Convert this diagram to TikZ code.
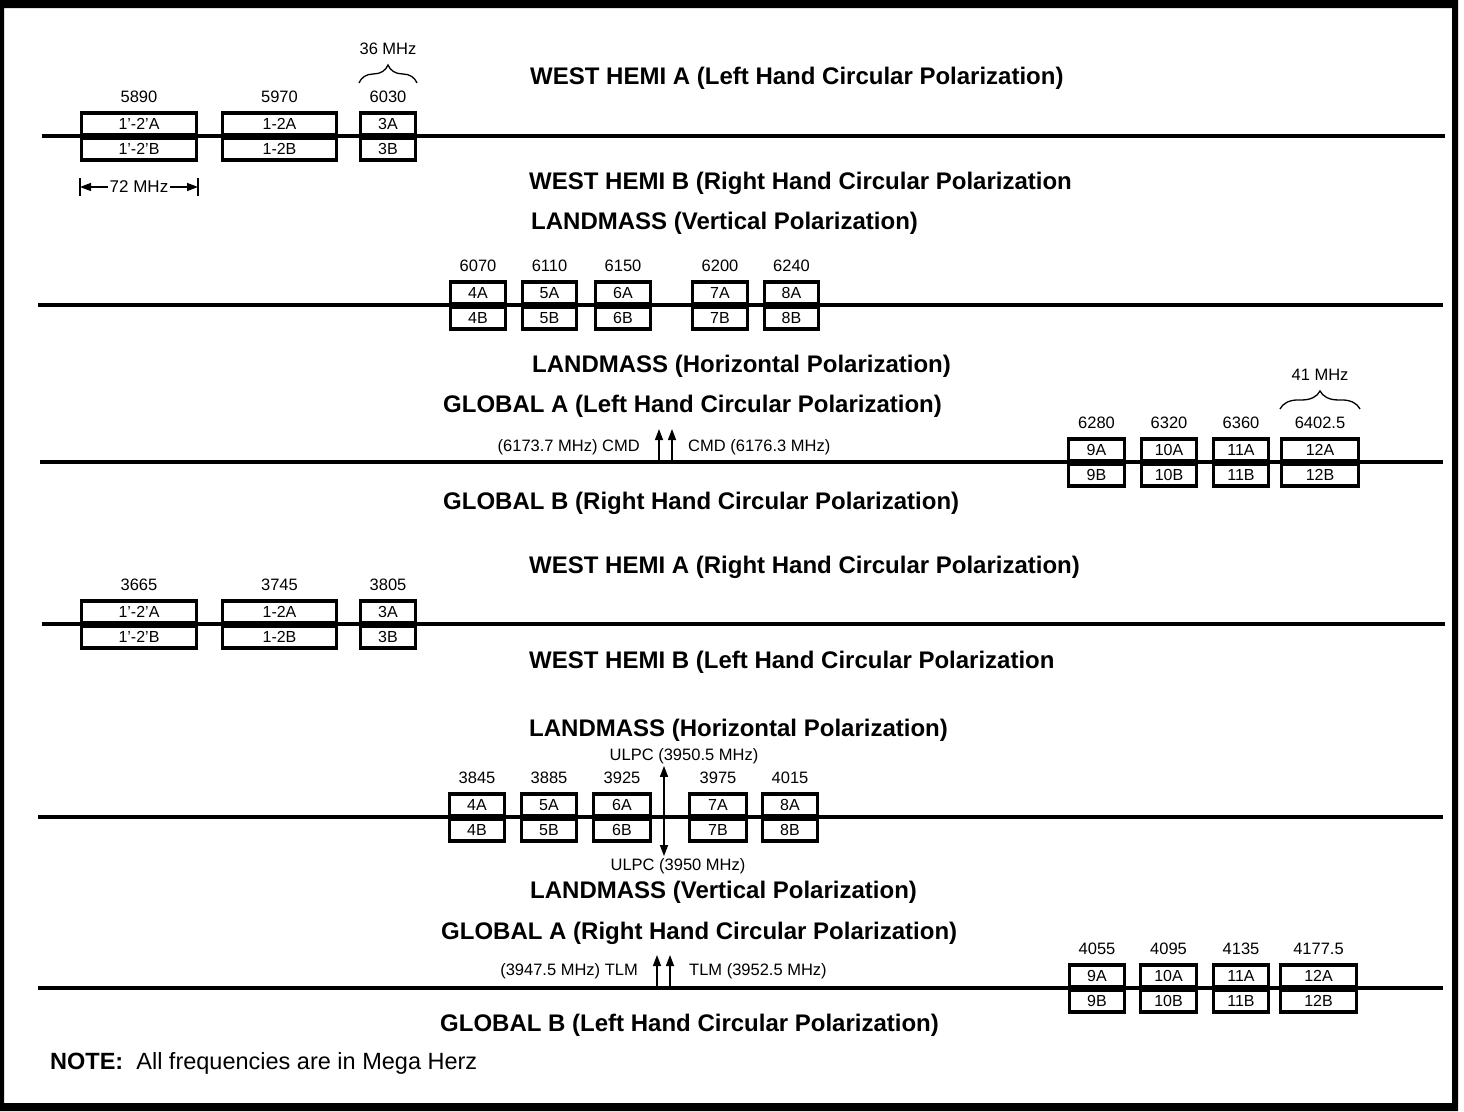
\documentclass[tikz,border=0pt]{standalone}
\usepackage{fontspec}
\setmainfont{Liberation Sans}
\usetikzlibrary{arrows.meta,decorations.pathreplacing,calc,positioning}

\tikzset{
  chan/.style={draw, line width=3.4pt, inner sep=0pt, minimum height=22pt,
    font=\fontsize{16}{16}\selectfont},
  freq/.style={inner sep=2pt, font=\fontsize{16.5}{16.5}\selectfont},
  head/.style={anchor=west, inner sep=0pt, font=\bfseries\fontsize{24}{24}\selectfont},
  band/.style={line width=3.5pt},
  sig/.style={line width=1.4pt, -{Triangle[length=11pt,width=8pt]}},
  brc/.style={line width=1.3pt, decorate, decoration={brace, amplitude=18pt}}
}

% one row of transponder pairs: prefix, y of the band line, list
\newcommand{\chanrow}[3]{%
  \foreach \xl/\xr/\fq/\ch [count=\i] in {#3} {
    \pgfmathsetmacro{\xm}{(\xl+\xr)/2}
    \pgfmathsetmacro{\boxw}{\xr-\xl-3.4}
    \node[chan, minimum width=\boxw pt] (#1a\i) at (\xm,#2-12) {\ch A};
    \node[chan, minimum width=\boxw pt] (#1b\i) at (\xm,#2+13) {\ch B};
    \node[freq] (#1f\i) at (\xm,#2-39) {\fq};
  }
}

\begin{document}
\begin{tikzpicture}[x=1pt,y=-1pt]

\fill[white] (0,0) rectangle (1464,1111);
\useasboundingbox (0,0) rectangle (1464,1111);

% frame
\fill[black,even odd rule] (0,0) rectangle (1458,1111) (4,8) rectangle (1452,1103);

% headings
\foreach \hx/\hy/\htxt [count=\i] in {
  530/78/{WEST HEMI A (Left Hand Circular Polarization)},
  529/183/{WEST HEMI B (Right Hand Circular Polarization},
  531/223/{LANDMASS (Vertical Polarization)},
  532/366/{LANDMASS (Horizontal Polarization)},
  443/406/{GLOBAL A (Left Hand Circular Polarization)},
  443/503/{GLOBAL B (Right Hand Circular Polarization)},
  529/567/{WEST HEMI A (Right Hand Circular Polarization)},
  529/662/{WEST HEMI B (Left Hand Circular Polarization},
  529/730/{LANDMASS (Horizontal Polarization)},
  530/892/{LANDMASS (Vertical Polarization)},
  441/933/{GLOBAL A (Right Hand Circular Polarization)},
  440/1025/{GLOBAL B (Left Hand Circular Polarization)}}
{
  \node[head] (h\i) at (\hx,\hy) {\htxt};
}

% band lines
\draw[band] (42,136) -- (1445,136);
\draw[band] (38,305) -- (1443,305);
\draw[band] (40,462) -- (1443,462);
\draw[band] (42,624) -- (1445,624);
\draw[band] (38,817) -- (1443,817);
\draw[band] (38,988) -- (1443,988);

% 6 GHz uplink
\chanrow{wu}{136}{80/198/5890/{1'-2'}, 221/338/5970/1-2, 359/417/6030/3}
\chanrow{lu}{305}{449/507/6070/4, 521/578/6110/5, 594/652/6150/6, 691/749/6200/7, 763/820/6240/8}
\chanrow{gu}{462}{1067/1126/6280/9, 1140/1198/6320/10, 1212/1270/6360/11, 1280/1360/6402.5/12}

% 4 GHz downlink
\chanrow{wd}{624}{80/198/3665/{1'-2'}, 221/338/3745/1-2, 359/417/3805/3}
\chanrow{ld}{817}{448/506/3845/4, 520/578/3885/5, 592/652/3925/6, 688/748/3975/7, 761/819/4015/8}
\chanrow{gd}{988}{1068/1126/4055/9, 1139/1198/4095/10, 1212/1270/4135/11, 1279/1358/4177.5/12}

% bandwidth marks
\draw[brc] ([yshift=6pt]wuf3.north -| wua3.west) -- ([yshift=6pt]wuf3.north -| wua3.east)
  node[freq, midway, above=26pt] (bw36) {36 MHz};
\draw[brc] ([yshift=6pt]guf4.north -| gua4.west) -- ([yshift=6pt]guf4.north -| gua4.east)
  node[freq, midway, above=26pt] (bw41) {41 MHz};

\node[freq, font=\fontsize{17}{17}\selectfont] (bw72) at (139,187) {72 MHz};
\draw[sig] (bw72.west) -- (bw72.west -| wub1.west);
\draw[sig] (bw72.east) -- (bw72.east -| wub1.east);
\draw[line width=1.3pt] ([yshift=9pt]bw72.west -| wub1.west) -- ([yshift=-9pt]bw72.west -| wub1.west);
\draw[line width=1.3pt] ([yshift=9pt]bw72.east -| wub1.east) -- ([yshift=-9pt]bw72.east -| wub1.east);

% command carriers
\coordinate (cmd1) at (659,462);
\coordinate (cmd2) at (672,462);
\draw[sig] (cmd1) -- ++(0,-33);
\draw[sig] (cmd2) -- ++(0,-33);
\node[freq, anchor=east] (cmdl) at (642,447) {(6173.7 MHz) CMD};
\node[freq, anchor=west] (cmdr) at (686,447) {CMD (6176.3 MHz)};

% uplink power control beacons
\coordinate (ulpc) at (664,817);
\node[freq] (ulpcu) at (684,756) {ULPC (3950.5 MHz)};
\node[freq] (ulpcd) at (678,866) {ULPC (3950 MHz)};
\draw[sig] (ulpc) -- (ulpc |- ulpcu.south);
\draw[sig] (ulpc) -- (ulpc |- ulpcd.north);

% telemetry carriers
\coordinate (tlm1) at (657,988);
\coordinate (tlm2) at (670,988);
\draw[sig] (tlm1) -- ++(0,-33);
\draw[sig] (tlm2) -- ++(0,-33);
\node[freq, anchor=east] (tlml) at (640,971) {(3947.5 MHz) TLM};
\node[freq, anchor=west] (tlmr) at (687,971) {TLM (3952.5 MHz)};

% note
\node[anchor=west, inner sep=0pt, font=\fontsize{23.5}{23.5}\selectfont] (note) at (50,1063)
  {\textbf{NOTE:}\ \ All frequencies are in Mega Herz};

\end{tikzpicture}
\end{document}
